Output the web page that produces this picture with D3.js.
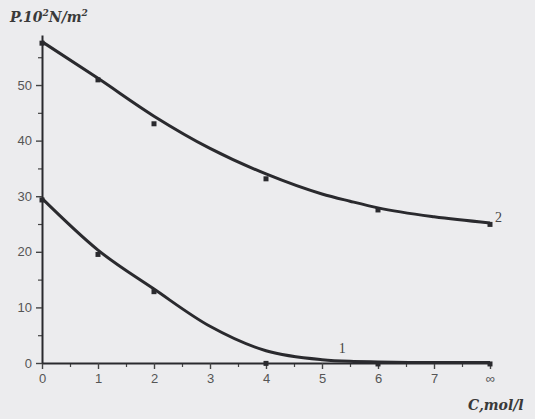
<!DOCTYPE html>
<html>
<head>
<meta charset="utf-8">
<script src="https://cdn.jsdelivr.net/npm/d3@7"></script>
<style>
  body { margin: 0; background: #ececee; }
  svg { display: block; }
  .tick text { font-family: "Liberation Sans", Arial, sans-serif; fill: #555; }
</style>
</head>
<body>
<svg></svg>
<script>
// x positions (concentration); 8 stands for infinity
var xTicks = [0, 1, 2, 3, 4, 5, 6, 7, 8];
var xTickLabels = ["0", "1", "2", "3", "4", "5", "6", "7", "\u221e"];
var yTicks = [0, 10, 20, 30, 40, 50];

// measured points
var pointX = [0, 1, 2, 4, 6, 8];
var points1 = [29.6, 19.8, 13.1, 0.2, 0.1, 0.1];
var points2 = [57.8, 51.2, 43.3, 33.4, 27.8, 25.2];

// smooth curves
var curveX = [0, 1, 2, 3, 4, 5, 5.5, 6, 7, 8];
var curve1 = [29.6, 20.3, 13.3, 6.6, 2.2, 0.6, 0.3, 0.2, 0.1, 0.1];
var curve2 = [57.8, 51.2, 44.4, 38.6, 34.0, 30.4, 29.1, 27.9, 26.3, 25.2];

var screen = { width: 535, height: 419 };

var svg = d3.select("svg")
            .attr("width", screen.width)
            .attr("height", screen.height);

var xScale = d3.scaleLinear()
               .domain([0, 8])
               .range([42, 490]);
var yScale = d3.scaleLinear()
               .domain([0, 59])
               .range([363, 35]);

var ink = "#2a2a2e";

// minor ticks first
svg.append("g")
   .attr("transform", "translate(0," + yScale(0) + ")")
   .call(d3.axisBottom(xScale).tickValues(d3.range(0.5, 8, 1)).tickSize(4).tickFormat(""))
   .call(function(g) { g.select(".domain").remove(); })
   .selectAll("line").attr("stroke", "#444").attr("stroke-width", 1.2);

svg.append("g")
   .attr("transform", "translate(" + xScale(0) + ",0)")
   .call(d3.axisLeft(yScale).tickValues([5, 15, 25, 35, 45, 55]).tickSize(4).tickFormat(""))
   .call(function(g) { g.select(".domain").remove(); })
   .selectAll("line").attr("stroke", "#444").attr("stroke-width", 1.2);

var xAxis = svg.append("g")
   .attr("transform", "translate(0," + yScale(0) + ")")
   .call(d3.axisBottom(xScale)
           .tickValues(xTicks)
           .tickSize(6)
           .tickSizeOuter(0)
           .tickPadding(5)
           .tickFormat(function(d, i) { return xTickLabels[i]; }));
xAxis.select(".domain").attr("stroke", ink).attr("stroke-width", 2);
xAxis.selectAll("line").attr("stroke", "#444").attr("stroke-width", 1.4);
xAxis.selectAll("text").attr("font-size", 13);

var yAxis = svg.append("g")
   .attr("transform", "translate(" + xScale(0) + ",0)")
   .call(d3.axisLeft(yScale)
           .tickValues(yTicks)
           .tickSize(6)
           .tickSizeOuter(0)
           .tickPadding(4));
yAxis.select(".domain").attr("stroke", ink).attr("stroke-width", 2);
yAxis.selectAll("line").attr("stroke", "#444").attr("stroke-width", 1.4);
yAxis.selectAll("text").attr("font-size", 13);

var line = d3.line()
             .x(function(d) { return xScale(d[0]); })
             .y(function(d) { return yScale(d[1]); })
             .curve(d3.curveMonotoneX);

[curve1, curve2].forEach(function(c) {
  svg.append("path")
     .datum(curveX.map(function(x, i) { return [x, c[i]]; }))
     .attr("d", line)
     .attr("fill", "none")
     .attr("stroke", ink)
     .attr("stroke-width", 3);
});

[points1, points2].forEach(function(p) {
  svg.append("g").selectAll("rect")
     .data(pointX.map(function(x, i) { return [x, p[i]]; }))
     .enter()
     .append("rect")
     .attr("x", function(d) { return xScale(d[0]) - 2.5; })
     .attr("y", function(d) { return yScale(d[1]) - 1; })
     .attr("width", 5)
     .attr("height", 5)
     .attr("fill", ink);
});

svg.append("text")
   .attr("x", xScale(5.3))
   .attr("y", yScale(1.8))
   .attr("font-family", "Liberation Serif, serif")
   .attr("font-size", 14)
   .attr("fill", "#444")
   .text("1");

svg.append("text")
   .attr("x", xScale(8) + 5)
   .attr("y", yScale(25.2) - 1)
   .attr("font-family", "Liberation Serif, serif")
   .attr("font-size", 14)
   .attr("fill", "#444")
   .text("2");

var title = svg.append("text")
   .attr("x", 10)
   .attr("y", 22)
   .attr("font-family", "DejaVu Serif, serif")
   .attr("font-style", "italic")
   .attr("font-weight", "bold")
   .attr("font-size", 14)
   .attr("fill", "#3a3a3a");
title.append("tspan").text("P.10");
title.append("tspan").attr("font-size", 9).attr("dy", -6).text("2");
title.append("tspan").attr("dy", 6).text("N/m");
title.append("tspan").attr("font-size", 9).attr("dy", -6).text("2");

svg.append("text")
   .attr("x", 468)
   .attr("y", 410)
   .attr("font-family", "DejaVu Serif, serif")
   .attr("font-style", "italic")
   .attr("font-weight", "bold")
   .attr("font-size", 14)
   .attr("fill", "#3a3a3a")
   .text("C,mol/l");
</script>
</body>
</html>
